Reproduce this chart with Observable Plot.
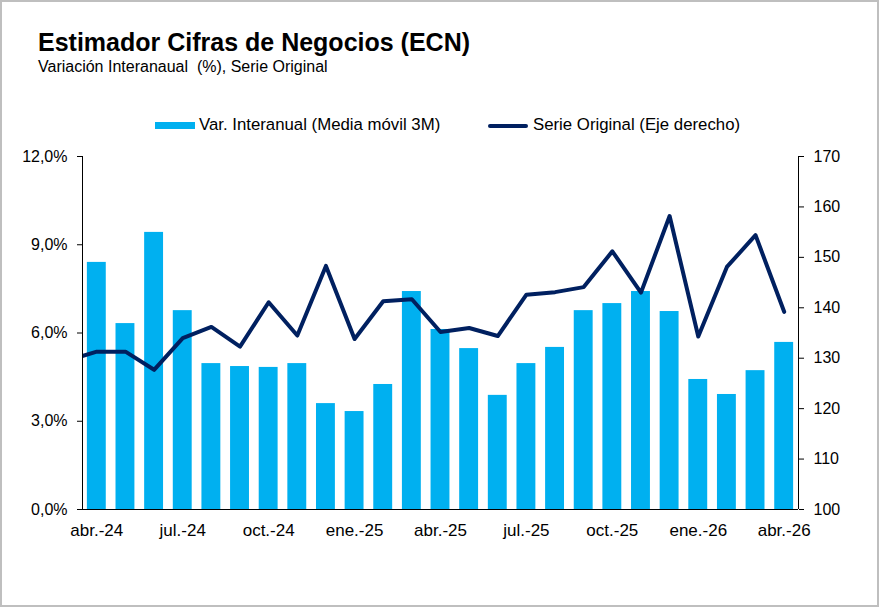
<!DOCTYPE html>
<html lang="es">
<head>
<meta charset="utf-8">
<title>Estimador Cifras de Negocios (ECN)</title>
<script src="https://cdn.jsdelivr.net/npm/d3@7"></script>
<script src="https://cdn.jsdelivr.net/npm/@observablehq/plot@0.6"></script>
<style>
  html, body { margin: 0; padding: 0; background: #fff; }
  #chart {
    position: relative; width: 879px; height: 607px; overflow: hidden;
    font-family: "Liberation Sans", Arial, sans-serif; color: #000;
  }
  #border {
    position: absolute; left: 0; top: 0; width: 879px; height: 607px;
    box-sizing: border-box; border: 2px solid #bfbfbf; pointer-events: none;
  }
  .title { position: absolute; left: 38px; top: 28px; font-size: 25px; font-weight: bold; white-space: nowrap; }
  .subtitle { position: absolute; left: 38px; top: 58px; font-size: 16px; white-space: pre; }
  .legend { position: absolute; top: 116px; font-size: 16.8px; white-space: nowrap; line-height: 18px; }
  .sw-bar { position: absolute; left: 155px; top: 122px; width: 40px; height: 7px; background: #00B0F0; }
  .sw-line { position: absolute; left: 488px; top: 123.5px; width: 40px; height: 4px; border-radius: 2px; background: #002060; }
  #plot { position: absolute; left: 0; top: 140px; }
</style>
</head>
<body>
<div id="chart">
  <div class="title">Estimador Cifras de Negocios (ECN)</div>
  <div class="subtitle">Variación Interanaual  (%), Serie Original</div>
  <div class="sw-bar"></div>
  <div class="legend" style="left:199px">Var. Interanual (Media móvil 3M)</div>
  <div class="sw-line"></div>
  <div class="legend" style="left:533px">Serie Original (Eje derecho)</div>
  <div id="plot"></div>
  <div id="border"></div>
</div>
<script>
// Meses de abr.-24 a abr.-26
const meses = [
  "abr.-24", "may.-24", "jun.-24", "jul.-24", "ago.-24", "sep.-24", "oct.-24", "nov.-24", "dic.-24",
  "ene.-25", "feb.-25", "mar.-25", "abr.-25", "may.-25", "jun.-25", "jul.-25", "ago.-25", "sep.-25",
  "oct.-25", "nov.-25", "dic.-25", "ene.-26", "feb.-26", "mar.-26", "abr.-26"
];

// Variación interanual, media móvil 3 meses (%)
const varInteranual = [
  8.40, 6.32, 9.42, 6.76, 4.96, 4.86, 4.83, 4.96, 3.60,
  3.33, 4.25, 7.41, 6.12, 5.47, 3.88, 4.96, 5.51, 6.76,
  7.00, 7.41, 6.73, 4.42, 3.91, 4.72, 5.68
];

// Serie original (eje derecho)
const serieOriginal = [
  131.3, 131.3, 127.7, 134.0, 136.2, 132.3, 141.1, 134.5, 148.3,
  133.8, 141.3, 141.7, 135.2, 136.0, 134.4, 142.6, 143.1, 144.1,
  151.2, 143.0, 158.2, 134.3, 148.1, 154.4, 139.2
];
// Valor de mar.-24: la línea entra desde el borde izquierdo del área
const serieMesPrevio = 129.6;

const ticksIzq = [0, 3, 6, 9, 12];
const ticksDer = [100, 110, 120, 130, 140, 150, 160, 170];
const ticksMes = [0, 3, 6, 9, 12, 15, 18, 21, 24];

// Conversión del eje derecho (100–170) a la escala del izquierdo (0–12)
const derMin = 100, derMax = 170, izqMax = 12;
const aIzq = v => (v - derMin) / (derMax - derMin) * izqMax;
const aDer = y => derMin + y / izqMax * (derMax - derMin);

const barras = meses.map((m, i) => ({i, mes: m, valor: varInteranual[i]}));
const linea = [{i: -1, valor: serieMesPrevio}]
  .concat(meses.map((m, i) => ({i, mes: m, valor: serieOriginal[i]})));

const semi = 0.33;
const fuente = "Liberation Sans, Arial, sans-serif";

const plot = Plot.plot({
  width: 879,
  height: 420,
  marginLeft: 82,
  marginRight: 81,
  marginTop: 16,
  marginBottom: 51,
  style: {fontFamily: fuente, fontSize: "16px", color: "#000", background: "transparent"},
  x: {type: "linear", domain: [-0.5, meses.length - 0.5]},
  y: {domain: [0, izqMax]},
  marks: [
    Plot.rect(barras, {
      x1: d => d.i - semi, x2: d => d.i + semi,
      y1: 0, y2: "valor", fill: "#00B0F0"
    }),
    Plot.line(linea, {
      x: "i", y: d => aIzq(d.valor),
      stroke: "#002060", strokeWidth: 4, clip: true,
      strokeLinejoin: "round", strokeLinecap: "round"
    }),
    Plot.ruleX([-0.5, meses.length - 0.5], {stroke: "#000", strokeWidth: 1}),
    Plot.ruleY([0], {stroke: "#000", strokeWidth: 1}),
    Plot.axisY({
      anchor: "left", ticks: ticksIzq, tickSize: 5, tickPadding: 10, label: null,
      tickFormat: d => d.toFixed(1).replace(".", ",") + "%", fontSize: 16
    }),
    Plot.axisY({
      anchor: "right", ticks: ticksDer.map(aIzq), tickSize: 5, tickPadding: 10, label: null,
      tickFormat: d => String(Math.round(aDer(d))), fontSize: 16
    }),
    Plot.axisX({
      ticks: ticksMes, tickSize: 0, tickPadding: 14, label: null,
      tickFormat: i => meses[i], fontSize: 17
    })
  ]
});

document.getElementById("plot").appendChild(plot);
</script>
</body>
</html>
